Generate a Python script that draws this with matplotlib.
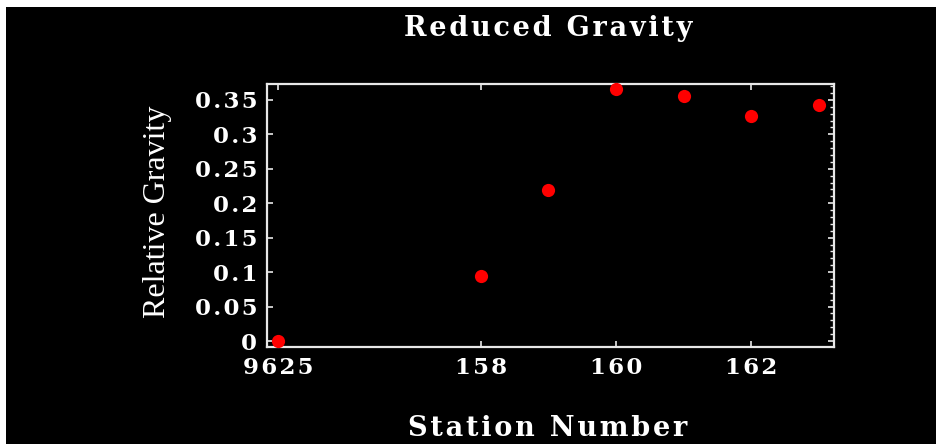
import matplotlib
matplotlib.use("Agg")
import matplotlib.pyplot as plt
from matplotlib.patches import Rectangle
from matplotlib.ticker import MultipleLocator

# data
stations = ["9625", "158", "159", "160", "161", "162", "163"]
x_pos = [155, 158, 159, 160, 161, 162, 163]
gravity = [0.0, 0.095, 0.219, 0.366, 0.356, 0.327, 0.343]

xtick_pos = [155, 158, 160, 162]
xtick_labels = ["9625", "158", "160", "162"]
ytick_vals = [0, 0.05, 0.1, 0.15, 0.2, 0.25, 0.3, 0.35]
ytick_labels = ["0", "0.05", "0.1", "0.15", "0.2", "0.25", "0.3", "0.35"]


def spaced(s, sep="\u200a"):
    # letter spacing, like the original
    return sep.join(s)


fig = plt.figure(figsize=(9.37, 4.44), dpi=100, facecolor="white")
# black panel with thin white margin top/left
fig.patches.append(Rectangle((6 / 937, 0), 1, (444 - 7) / 444,
                             transform=fig.transFigure, facecolor="black",
                             edgecolor="none", zorder=0))

ax = fig.add_axes([267 / 937, 97 / 444, (834 - 267) / 937, (347 - 84) / 444])
ax.set_zorder(2)
ax.set_facecolor("black")

ax.plot(x_pos, gravity, "o", color="#ff0000", markersize=9.5,
        markeredgewidth=0, clip_on=False, zorder=3)

ax.set_xlim(154.84, 163.22)
ax.set_ylim(-0.0087, 0.373)

edge = "#e8e8e8"
for s in ax.spines.values():
    s.set_color(edge)
    s.set_linewidth(1.6)

ax.set_xticks(xtick_pos)
ax.set_xticklabels([spaced(t) for t in xtick_labels])
ax.set_yticks(ytick_vals)
ax.set_yticklabels([spaced(t) for t in ytick_labels])
ax.yaxis.set_minor_locator(MultipleLocator(0.01))

ax.tick_params(axis="both", which="major", direction="in", colors=edge,
               length=4, width=1.2, top=True, right=True, pad=7)
ax.tick_params(axis="y", which="minor", direction="in", colors=edge,
               length=3, width=1.0, left=False, right=True)
ax.tick_params(axis="y", which="major", right=True, length=4)

for lab in ax.get_xticklabels() + ax.get_yticklabels():
    lab.set_fontfamily("DejaVu Serif")
    lab.set_fontweight("bold")
    lab.set_fontsize(16.5)
    lab.set_color("white")

fig.text(548 / 937, 1 - 28 / 444, spaced("Reduced Gravity"), ha="center",
         va="center", color="white", family="DejaVu Serif", weight="bold",
         size=19.5)
fig.text(548 / 937, 1 - 428 / 444, spaced("Station Number"), ha="center",
         va="center", color="white", family="DejaVu Serif", weight="bold",
         size=19.5)
fig.text(157 / 937, 1 - 212 / 444, "Relative Gravity", ha="center",
         va="center", rotation=90, color="white", family="Liberation Serif",
         size=23)

fig.savefig("out.png", dpi=100, facecolor=fig.get_facecolor())
